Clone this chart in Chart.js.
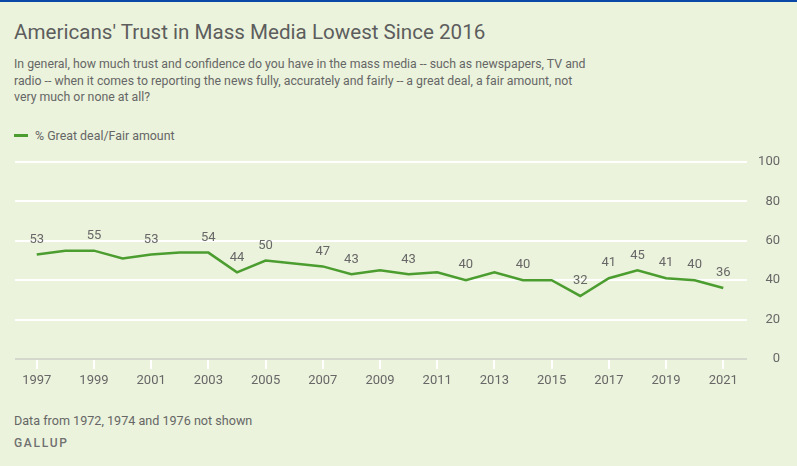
<!DOCTYPE html>
<html>
<head>
<meta charset="utf-8">
<script src="https://cdn.jsdelivr.net/npm/chart.js@4/dist/chart.umd.min.js"></script>
<style>
  html, body { margin: 0; padding: 0; }
  body {
    width: 797px; height: 466px; position: relative; overflow: hidden;
    background: #ebf3dc; font-family: Roboto, "Noto Sans", sans-serif; color: #666;
  }
  .topbar { position: absolute; left: 0; top: 0; width: 797px; height: 2px; background: #0a47a6; }
  .title { position: absolute; left: 14px; top: 20px; font-size: 20.6px; color: #5d5d5d; white-space: nowrap; }
  .sub { position: absolute; left: 14px; top: 56px; font-size: 12.3px; line-height: 16.5px; color: #666; white-space: nowrap; }
  .legend { position: absolute; left: 14px; top: 128px; font-size: 12.4px; color: #666; }
  .legend i { display: inline-block; width: 14px; height: 2.5px; vertical-align: middle; margin-right: 7px; position: relative; top: -1px; }
  .note { position: absolute; left: 14px; top: 413px; font-size: 12.6px; color: #666; }
  .brand { position: absolute; left: 14px; top: 436px; font-size: 12px; color: #707070; letter-spacing: 1.7px; font-weight: 500; }
  #wrap { position: absolute; left: 0; top: 150px; width: 797px; height: 250px; }
</style>
</head>
<body>
<div class="topbar"></div>
<div class="title">Americans' Trust in Mass Media Lowest Since 2016</div>
<div class="sub">In general, how much trust and confidence do you have in the mass media -- such as newspapers, TV and<br>radio -- when it comes to reporting the news fully, accurately and fairly -- a great deal, a fair amount, not<br>very much or none at all?</div>
<div class="legend" id="legend"></div>
<div id="wrap"><canvas id="trend"></canvas></div>
<div class="note">Data from 1972, 1974 and 1976 not shown</div>
<div class="brand">GALLUP</div>

<script>
// no survey in 2006, line runs straight from 2005 to 2007
var years = [1997, 1998, 1999, 2000, 2001, 2002, 2003, 2004, 2005,
             2007, 2008, 2009, 2010, 2011, 2012, 2013, 2014, 2015,
             2016, 2017, 2018, 2019, 2020, 2021];
var trust = [53, 55, 55, 51, 53, 54, 54, 44, 50,
             47, 43, 45, 43, 44, 40, 44, 40, 40,
             32, 41, 45, 41, 40, 36];
var labeledYears = [1997, 1999, 2001, 2003, 2004, 2005, 2007, 2008, 2010,
                    2012, 2014, 2016, 2017, 2018, 2019, 2020, 2021];
var yearTicks = [1997, 1999, 2001, 2003, 2005, 2007, 2009, 2011, 2013, 2015, 2017, 2019, 2021];
var pctTicks = [0, 20, 40, 60, 80, 100];
var seriesName = '% Great deal/Fair amount';

const green = '#4c9d30';
const textGray = '#676767';

document.getElementById('legend').innerHTML =
  '<i style="background:' + green + '"></i>' + seriesName;

// value labels above the chosen points
const pointLabels = {
  id: 'pointLabels',
  afterDatasetsDraw(chart) {
    const ctx = chart.ctx;
    const meta = chart.getDatasetMeta(0);
    ctx.save();
    ctx.font = '13px Roboto, "Noto Sans", sans-serif';
    ctx.fillStyle = textGray;
    ctx.textAlign = 'center';
    ctx.textBaseline = 'middle';
    meta.data.forEach((pt, i) => {
      if (labeledYears.indexOf(years[i]) < 0) return;
      ctx.fillText(String(trust[i]), pt.x, pt.y - 15);
    });
    ctx.restore();
  }
};

const lineConfig = {
  type: 'line',
  data: {
    datasets: [
      {
        label: seriesName,
        data: years.map((y, i) => ({ x: y, y: trust[i] })),
        borderColor: green,
        borderWidth: 2.5,
        pointRadius: 0,
        tension: 0,
        fill: false,
      },
    ],
  },
  options: {
    responsive: true,
    maintainAspectRatio: false,
    animation: false,
    layout: { padding: { left: 15, right: 17, top: 12, bottom: 0 } },
    plugins: {
      legend: { display: false },
      tooltip: { enabled: false },
    },
    scales: {
      x: {
        type: 'linear',
        min: 1996.24,
        max: 2021.83,
        afterBuildTicks: (scale) => { scale.ticks = yearTicks.map(v => ({ value: v })); },
        afterFit: (scale) => { scale.height = 41; },
        border: { display: false },
        grid: { drawOnChartArea: false, drawTicks: true, tickLength: 10, color: '#ffffff', lineWidth: 2 },
        ticks: {
          color: textGray,
          font: { family: 'Roboto', size: 13 },
          padding: 4,
          maxRotation: 0,
          autoSkip: false,
          callback: (v) => String(v),
        },
      },
      y: {
        position: 'right',
        min: 0,
        max: 100,
        afterBuildTicks: (scale) => { scale.ticks = pctTicks.map(v => ({ value: v })); },
        afterFit: (scale) => { scale.width = 33; },
        border: { display: false },
        grid: {
          drawTicks: false,
          lineWidth: 2,
          color: (c) => (c.tick && c.tick.value === 0 ? '#d3d7cc' : '#ffffff'),
        },
        ticks: {
          color: textGray,
          font: { family: 'Roboto', size: 13 },
          crossAlign: 'far',
          padding: 0,
        },
      },
    },
  },
  plugins: [pointLabels],
};

window.myLine = new Chart(document.getElementById('trend'), lineConfig);
</script>
</body>
</html>
